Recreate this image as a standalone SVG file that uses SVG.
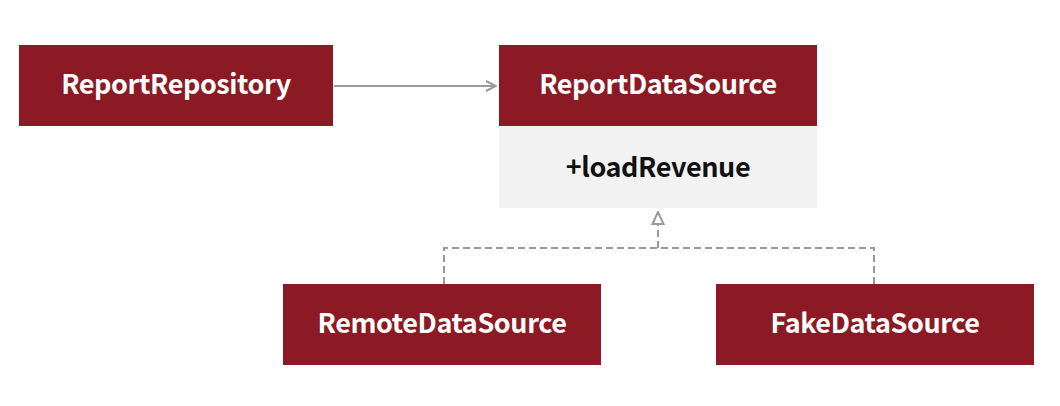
<svg xmlns="http://www.w3.org/2000/svg" width="1060" height="406" viewBox="0 0 1060 406">
<style>
.hdr{fill:#8C1A24;}
.body{fill:#F2F2F2;}
.t{font-family:"Noto Sans CJK KR","Noto Sans",sans-serif;font-weight:bold;font-size:27px;letter-spacing:-0.4px;text-anchor:middle;}
.w{fill:#FFFFFF;}
.k{fill:#111111;}
.ln{fill:none;stroke:#999999;stroke-width:2;}
.dash{stroke-dasharray:7 4;}
</style>
<defs>
<marker id="open" viewBox="0 0 12 12" refX="11" refY="6" markerWidth="12" markerHeight="12" markerUnits="userSpaceOnUse" orient="auto">
<path d="M1,1 L11,6 L1,11" fill="none" stroke="#999999" stroke-width="2"/>
</marker>
<marker id="tri" viewBox="0 0 14 14" refX="13" refY="7" markerWidth="14" markerHeight="14" markerUnits="userSpaceOnUse" orient="auto">
<path d="M1,1.5 L13,7 L1,12.5 Z" fill="#FFFFFF" stroke="#999999" stroke-width="2"/>
</marker>
</defs>
<rect width="1060" height="406" fill="#FFFFFF"/>
<g id="connectors">
<line class="ln" x1="334" y1="86" x2="496" y2="86" marker-end="url(#open)"/>
<path class="ln dash" d="M444,284 L444,248 L874,248 L874,284"/>
<path class="ln dash" d="M658,248 L658,212" marker-end="url(#tri)"/>
</g>
<g id="ReportRepository">
<rect class="hdr" x="19" y="45" width="314" height="81"/>
<text class="t w" x="176" y="94">ReportRepository</text>
</g>
<g id="ReportDataSource">
<rect class="hdr" x="499" y="45" width="318" height="81"/>
<rect class="body" x="499" y="126" width="318" height="82"/>
<text class="t w" x="658" y="94">ReportDataSource</text>
<text class="t k" x="658" y="177">+loadRevenue</text>
</g>
<g id="RemoteDataSource">
<rect class="hdr" x="283" y="284" width="318" height="81"/>
<text class="t w" x="442" y="333">RemoteDataSource</text>
</g>
<g id="FakeDataSource">
<rect class="hdr" x="716" y="284" width="318" height="81"/>
<text class="t w" x="875" y="333">FakeDataSource</text>
</g>
</svg>
